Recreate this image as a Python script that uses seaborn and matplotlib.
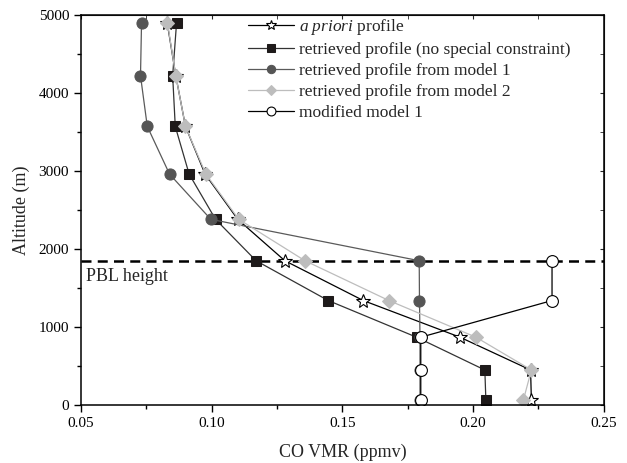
import matplotlib
matplotlib.use("Agg")
import matplotlib.pyplot as plt
import seaborn as sns

altitude = [4900, 4220, 3570, 2960, 2380, 1850, 1340, 870, 450, 60]
apriori = [0.083, 0.0863, 0.090, 0.0975, 0.110, 0.128, 0.158, 0.195, 0.222, 0.2223]
retrieved = [0.0866, 0.0851, 0.0861, 0.0914, 0.1015, 0.117, 0.1446, 0.1784, 0.2045, 0.2049]
model1 = [0.0732, 0.0728, 0.0754, 0.0839, 0.0997, 0.1794, 0.1795, 0.1797, 0.1797, 0.1797]
model2 = [0.0831, 0.0863, 0.0900, 0.0978, 0.1104, 0.1357, 0.1678, 0.2011, 0.2223, 0.2192]
mod_alt = [1850, 1340, 870, 450, 60]
modified1 = [0.2302, 0.2302, 0.180, 0.180, 0.180]
pbl_height = 1850

sns.set_style("ticks")
plt.rcParams["font.family"] = ["Liberation Serif", "DejaVu Serif"]
plt.rcParams["mathtext.fontset"] = "custom"
plt.rcParams["mathtext.it"] = "Liberation Serif:italic"
plt.rcParams["mathtext.rm"] = "Liberation Serif"

fig = plt.figure(figsize=(6.27, 4.63), dpi=100)
ax = fig.add_axes([0.129, 0.125, 0.834, 0.843])

ax.axhline(pbl_height, color="black", lw=1.8, ls=(0, (4, 2.5)), zorder=1)

series = [
    (apriori, altitude, r"$\it{a\ priori}$ profile",
     dict(color="black", marker="*", mfc="white", mec="black", ms=10, mew=0.8)),
    (retrieved, altitude, "retrieved profile (no special constraint)",
     dict(color="#333333", marker="s", mfc="#1e1a1a", mec="#1e1a1a", ms=7.5)),
    (model1, altitude, "retrieved profile from model 1",
     dict(color="#5a5a5a", marker="o", mfc="#555555", mec="#555555", ms=8)),
    (model2, altitude, "retrieved profile from model 2",
     dict(color="#bdbdbd", marker="D", mfc="#bdbdbd", mec="#bdbdbd", ms=7)),
    (modified1, mod_alt, "modified model 1",
     dict(color="black", marker="o", mfc="white", mec="black", ms=8.5, mew=0.8)),
]
for xs, ys, lab, st in series:
    sns.lineplot(x=xs, y=ys, sort=False, estimator=None, ax=ax, label=lab, lw=0.9, **st)

ax.text(0.052, 1650, "PBL height", fontsize=13, va="center", ha="left")

ax.set_xlim(0.05, 0.25)
ax.set_ylim(0, 5000)
ax.set_xticks([0.05, 0.10, 0.15, 0.20, 0.25])
ax.set_xticklabels(["0.05", "0.10", "0.15", "0.20", "0.25"])
ax.set_xticks([0.075, 0.125, 0.175, 0.225], minor=True)
ax.set_yticks([0, 1000, 2000, 3000, 4000, 5000])
ax.set_yticks([500, 1500, 2500, 3500, 4500], minor=True)
ax.tick_params(which="both", direction="out", labelsize=11, width=1, colors="black")
ax.tick_params(which="major", length=5)
ax.tick_params(which="minor", length=3)
for s in ax.spines.values():
    s.set_linewidth(1.1)
    s.set_color("black")

top = ax.secondary_xaxis("top")
top.set_xticks([0.05, 0.10, 0.15, 0.20, 0.25])
top.set_xticks([0.075, 0.125, 0.175, 0.225], minor=True)
top.tick_params(which="both", direction="in", labeltop=False, length=3)
right = ax.secondary_yaxis("right")
right.set_yticks([0, 1000, 2000, 3000, 4000, 5000])
right.set_yticks([500, 1500, 2500, 3500, 4500], minor=True)
right.tick_params(which="both", direction="in", labelright=False, length=3)

ax.set_xlabel("CO VMR (ppmv)", fontsize=13, labelpad=10)
ax.set_ylabel("Altitude (m)", fontsize=13, labelpad=6)

leg = ax.legend(loc="upper left", bbox_to_anchor=(0.32, 0.995), frameon=False,
                fontsize=12.5, handlelength=2.65, handletextpad=0.3,
                labelspacing=0.28, markerscale=0.75, borderaxespad=0, borderpad=0)

fig.savefig("out.png", dpi=100)
